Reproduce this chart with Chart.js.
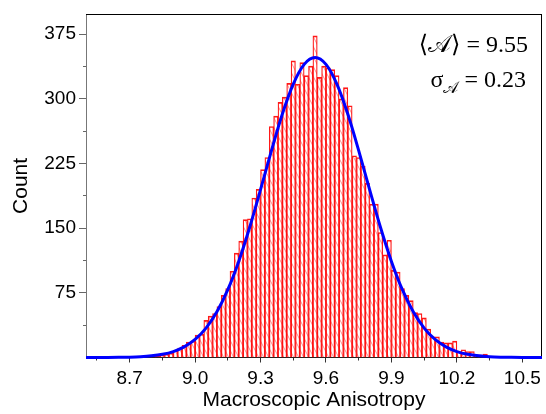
<!DOCTYPE html>
<html><head><meta charset="utf-8">
<script src="https://cdn.jsdelivr.net/npm/chart.js@4/dist/chart.umd.min.js"></script>
<style>html,body{margin:0;padding:0;background:#fff;}canvas{display:block;}</style>
</head><body>
<canvas id="c" width="546" height="414"></canvas>
<script>
// ---- data ----
const binCenters = [8.81,8.83,8.85,8.87,8.89,8.91,8.93,8.95,8.97,8.99,
  9.01,9.03,9.05,9.07,9.09,9.11,9.13,9.15,9.17,9.19,
  9.21,9.23,9.25,9.27,9.29,9.31,9.33,9.35,9.37,9.39,
  9.41,9.43,9.45,9.47,9.49,9.51,9.53,9.55,9.57,9.59,
  9.61,9.63,9.65,9.67,9.69,9.71,9.73,9.75,9.77,9.79,
  9.81,9.83,9.85,9.87,9.89,9.91,9.93,9.95,9.97,9.99,
  10.01,10.03,10.05,10.07,10.09,10.11,10.13,10.15,10.17,10.19,
  10.21,10.23,10.25,10.27,10.29,10.31,10.33];
const counts = [2,2,3,4,5,8,11,14,18,19,
  26,27,43,48,51,59,72,80,100,121,
  135,160,161,185,195,218,232,268,280,296,
  302,318,344,317,342,327,338,373,325,338,
  336,334,327,300,313,292,234,232,222,202,
  178,178,145,119,136,101,99,80,72,66,
  52,51,46,33,24,24,18,17,17,19,
  7,9,7,7,3,3,4];
const fitX = [8.50,8.55,8.60,8.65,8.70,8.75,8.80,8.85,8.90,8.95,
  9.00,9.05,9.10,9.15,9.20,9.25,9.30,9.35,9.40,9.45,
  9.50,9.55,9.60,9.65,9.70,9.75,9.80,9.85,9.90,9.95,
  10.00,10.05,10.10,10.15,10.20,10.25,10.30,10.35,10.40,10.45,
  10.50,10.55,10.60];
const fitY = [0.01,0.03,0.08,0.19,0.42,0.91,1.9,3.7,6.9,12.3,
  20.9,34.1,53.0,78.7,111.5,150.8,194.7,240.0,282.4,317.1,
  340.0,348.0,340.0,317.1,282.4,240.0,194.7,150.8,111.5,78.7,
  53.0,34.1,20.9,12.3,6.9,3.7,1.9,0.91,0.42,0.19,
  0.08,0.03,0.01];
const xTickValues = [8.55,8.7,8.85,9.0,9.15,9.3,9.45,9.6,9.75,9.9,10.05,10.2,10.35,10.5];
const xTickLabels = ['','8.7','','9.0','','9.3','','9.6','','9.9','','10.2','','10.5'];
const yTickValues = [37.5,75,112.5,150,187.5,225,262.5,300,337.5,375];
const yTickLabels = ['','75','','150','','225','','300','','375'];
const xTitle = 'Macroscopic Anisotropy';
const yTitle = 'Count';
const statMean = ['\u27E8','\uD835\uDC9C','\u27E9',' = 9.55'];
const statSigma = ['\u03C3','\uD835\uDC9C',' = 0.23'];

// ---- hatch pattern for bars ----
const hatch = (() => {
  const c = document.createElement('canvas'); c.width = 5; c.height = 10;
  const g = c.getContext('2d');
  g.strokeStyle = 'rgba(255,0,0,0.45)'; g.lineWidth = 1;
  g.beginPath();
  for (let k = -1; k <= 1; k++) { g.moveTo(k*5, 0); g.lineTo(k*5 + 5, 10); }
  g.stroke();
  return g.createPattern(c, 'repeat');
})();

const serif = '"Liberation Serif","DejaVu Serif",serif';
const statsPlugin = {
  id: 'stats',
  afterDraw(chart) {
    const g = chart.ctx;
    g.save();
    g.fillStyle = '#000';
    g.textBaseline = 'alphabetic';
    g.textAlign = 'left';
    g.font = '24px ' + serif;
    let w = 0; statMean.forEach(s => w += g.measureText(s).width);
    let x = 528 - w;
    statMean.forEach(s => { g.fillText(s, x, 52); x += g.measureText(s).width; });
    const big = '24px ' + serif, small = '16px ' + serif;
    g.font = big; const w1 = g.measureText(statSigma[0]).width, w3 = g.measureText(statSigma[2]).width;
    g.font = small; const w2 = g.measureText(statSigma[1]).width;
    x = 526 - (w1 + w2 + w3);
    g.font = big; g.fillText(statSigma[0], x, 87); x += w1;
    g.font = small; g.fillText(statSigma[1], x, 93); x += w2;
    g.font = big; g.fillText(statSigma[2], x, 87);
    g.restore();
  }
};

Chart.defaults.font.family = '"Liberation Sans", Arial, sans-serif';
Chart.defaults.color = '#000';

new Chart(document.getElementById('c'), {
  type: 'bar',
  data: {
    datasets: [
      { type: 'line', data: fitX.map((x, i) => ({x, y: fitY[i]})),
        borderColor: '#0000ff', borderWidth: 3, pointRadius: 0,
        cubicInterpolationMode: 'monotone', fill: false, order: 0,
        clip: {left: 0, right: 0, top: 0, bottom: 2} },
      { type: 'bar', data: binCenters.map((x, i) => ({x, y: counts[i]})),
        backgroundColor: hatch, borderColor: 'rgba(255,0,0,0.9)',
        borderWidth: {left: 0.6, right: 0.6, top: 1, bottom: 0}, borderSkipped: false,
        barPercentage: 1, categoryPercentage: 1, order: 1 }
    ]
  },
  options: {
    responsive: false, animation: false, devicePixelRatio: 1,
    layout: { padding: { top: 13, right: 0.5, left: 0, bottom: 0 } },
    plugins: { legend: { display: false }, tooltip: { enabled: false } },
    scales: {
      x: {
        type: 'linear', position: 'bottom', min: 8.5, max: 10.59, offset: false,
        afterBuildTicks: s => { s.ticks = xTickValues.map(v => ({value: v})); },
        afterFit: s => { s.height = 56.5; },
        ticks: { autoSkip: false, maxRotation: 0, padding: 5, font: {size: 19}, color: '#000',
          callback: (v, i) => xTickLabels[i] },
        grid: { display: true, drawOnChartArea: false, offset: false, tickLength: 5, tickColor: '#333',
          tickBorderDash: c => (xTickLabels[c.index] === '' ? [2.5, 100] : []) },
        border: { display: true, color: '#222', width: 1 },
        title: { display: true, text: xTitle, font: {size: 21}, color: '#000', padding: {top: 0, bottom: 1} }
      },
      y: {
        type: 'linear', position: 'left', min: 0, max: 398,
        afterBuildTicks: s => { s.ticks = yTickValues.map(v => ({value: v})); },
        afterFit: s => { s.width = 86; },
        ticks: { padding: 3, font: {size: 19}, color: '#000', callback: (v, i) => yTickLabels[i] },
        grid: { display: true, drawOnChartArea: false, tickLength: 7, tickColor: '#666',
          tickBorderDash: c => (yTickLabels[c.index] === '' ? [0, 4, 3, 100] : []) },
        border: { display: true, color: '#777', width: 1 },
        title: { display: true, text: yTitle, font: {size: 21}, color: '#000', padding: {top: 9, bottom: 0} }
      },
      xTop: {
        type: 'linear', position: 'top', min: 8.5, max: 10.59,
        ticks: { display: false }, grid: { display: false, drawTicks: false },
        border: { display: true, color: '#000', width: 1 },
        afterFit: s => { s.height = 0; }
      },
      yRight: {
        type: 'linear', position: 'right', min: 0, max: 398,
        ticks: { display: false }, grid: { display: false, drawTicks: false },
        border: { display: true, color: '#000', width: 1 },
        afterFit: s => { s.width = 0; }
      }
    }
  },
  plugins: [statsPlugin]
});
</script>
</body></html>
